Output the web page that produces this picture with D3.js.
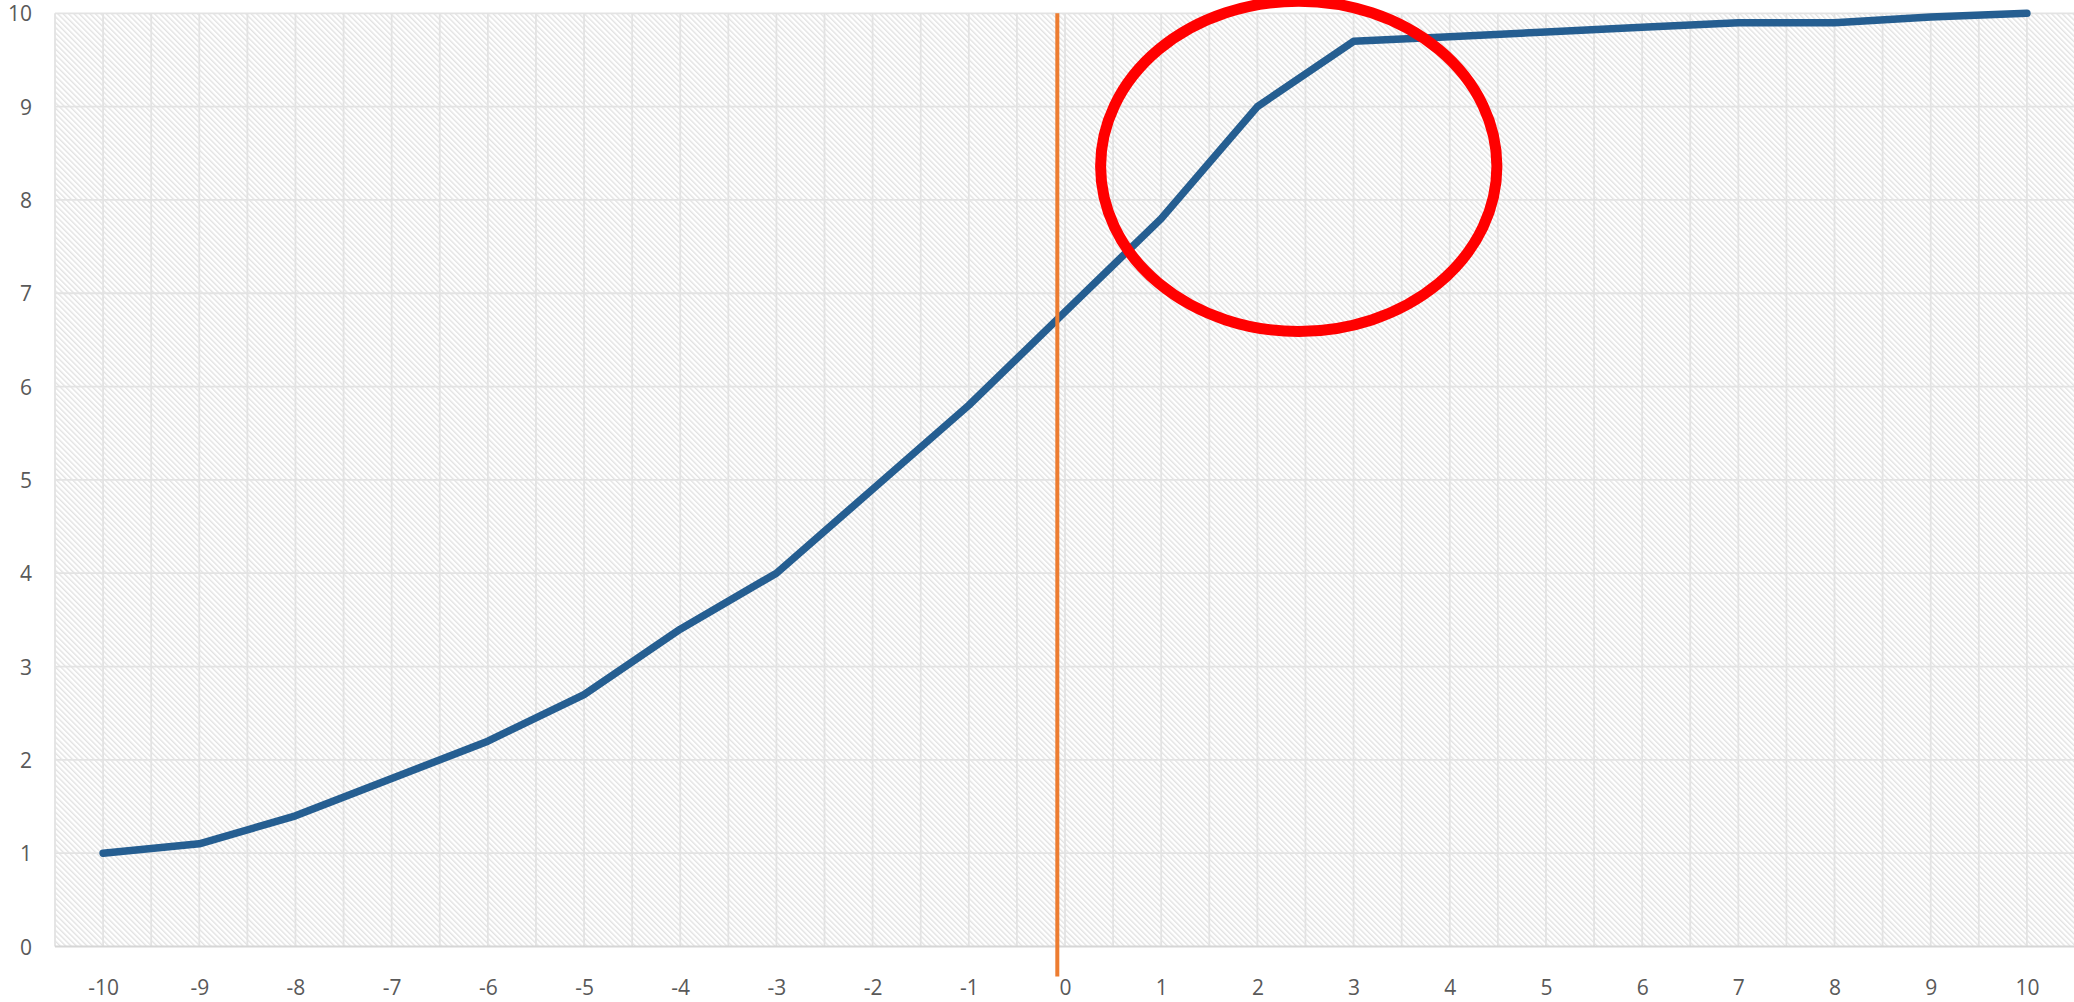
<!DOCTYPE html>
<html>
<head>
<meta charset="utf-8">
<script src="https://cdn.jsdelivr.net/npm/d3@7"></script>
<style>
  html, body { margin: 0; padding: 0; background: #ffffff; }
  svg { display: block; }
  .tick text { font-family: "Open Sans", "Liberation Sans", sans-serif; font-size: 21px; fill: #595959; }
</style>
</head>
<body>
<svg id="chart" width="2074" height="1002"></svg>
<script>
// ---- data ----
const xCategories = [-10, -9, -8, -7, -6, -5, -4, -3, -2, -1, 0, 1, 2, 3, 4, 5, 6, 7, 8, 9, 10];
const seriesValues = [1.0, 1.1, 1.4, 1.8, 2.2, 2.7, 3.4, 4.0, 4.9, 5.8, 6.8, 7.8, 9.0, 9.7, 9.75, 9.8, 9.85, 9.9, 9.9, 9.96, 10.0];
const yTickLabels = [0, 1, 2, 3, 4, 5, 6, 7, 8, 9, 10];
const xTickLabels = xCategories;
const markerLineX = [-0.08];             // orange vertical marker
const highlightEllipse = [{ cx: 2.43, cy: 8.36, rx: 2.06, ry: 1.77 }]; // red annotation (data units)

// ---- layout ----
const svg = d3.select("#chart");
const plot = { left: 55, right: 2075, top: 13.3, bottom: 946.5 };

const x = d3.scaleLinear().domain([-10.5, 10.5]).range([plot.left, plot.right]);
const y = d3.scaleLinear().domain([0, 10]).range([plot.bottom, plot.top]);

// hatch pattern
const defs = svg.append("defs");
const pat = defs.append("pattern")
  .attr("id", "hatch")
  .attr("patternUnits", "userSpaceOnUse")
  .attr("width", 3.8).attr("height", 3.8)
  .attr("patternTransform", "rotate(-45)");
pat.append("rect").attr("width", 3.8).attr("height", 3.8).attr("fill", "#ffffff");
pat.append("rect").attr("width", 1.4).attr("height", 3.8).attr("fill", "#e2e2e2");

svg.append("rect")
  .attr("x", plot.left).attr("y", plot.top)
  .attr("width", plot.right - plot.left).attr("height", plot.bottom - plot.top)
  .attr("fill", "url(#hatch)");

// grid lines
const vGrid = d3.range(-10.5, 10.51, 0.5);
svg.append("g").selectAll("line").data(vGrid).join("line")
  .attr("x1", d => x(d)).attr("x2", d => x(d))
  .attr("y1", plot.top).attr("y2", plot.bottom)
  .attr("stroke", "#e3e3e3").attr("stroke-width", 1.8);

svg.append("g").selectAll("line").data(yTickLabels.filter(d => d > 0)).join("line")
  .attr("x1", plot.left).attr("x2", plot.right)
  .attr("y1", d => y(d)).attr("y2", d => y(d))
  .attr("stroke", "#e3e3e3").attr("stroke-width", 1.8);

// bottom axis line
svg.append("line")
  .attr("x1", plot.left).attr("x2", plot.right)
  .attr("y1", y(0)).attr("y2", y(0))
  .attr("stroke", "#d6d6d6").attr("stroke-width", 2);

// axes labels
const yAxis = d3.axisLeft(y).tickValues(yTickLabels).tickSize(0).tickPadding(23).tickFormat(d => String(d));
const gy = svg.append("g").attr("transform", `translate(${plot.left},0)`).call(yAxis);
gy.select(".domain").remove();
gy.selectAll("text").attr("dy", "0.36em");

const xAxis = d3.axisBottom(x).tickValues(xTickLabels).tickSize(0).tickFormat(d => String(d));
const gx = svg.append("g").attr("transform", `translate(0,${plot.bottom})`).call(xAxis);
gx.select(".domain").remove();
gx.selectAll("text").attr("dy", null).attr("y", 48.5);

// data line
const line = d3.line().x((d, i) => x(xCategories[i])).y(d => y(d));
svg.append("path")
  .datum(seriesValues)
  .attr("d", line)
  .attr("fill", "none")
  .attr("stroke", "#255e91")
  .attr("stroke-width", 7.5)
  .attr("stroke-linejoin", "round")
  .attr("stroke-linecap", "round");

// orange vertical marker
svg.append("g").selectAll("line").data(markerLineX).join("line")
  .attr("x1", d => x(d)).attr("x2", d => x(d))
  .attr("y1", y(10)).attr("y2", y(0) + 30)
  .attr("stroke", "#ed7d31").attr("stroke-width", 4);

// red ellipse annotation
svg.append("g").selectAll("ellipse").data(highlightEllipse).join("ellipse")
  .attr("cx", d => x(d.cx)).attr("cy", d => y(d.cy))
  .attr("rx", d => x(d.cx + d.rx) - x(d.cx))
  .attr("ry", d => y(d.cy - d.ry) - y(d.cy))
  .attr("fill", "none")
  .attr("stroke", "#ff0000").attr("stroke-width", 11);
</script>
</body>
</html>
